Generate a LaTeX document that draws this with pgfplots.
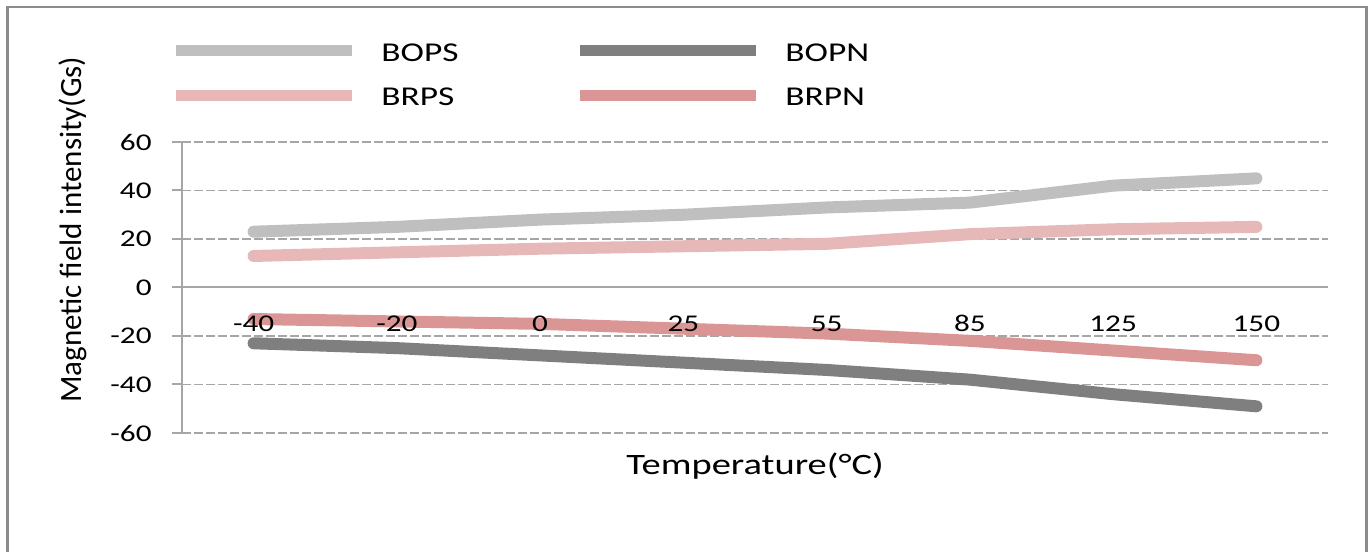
\documentclass[border=0pt]{standalone}
\usepackage{fontspec}
\setmainfont[FakeStretch=1.3]{Carlito}
\newfontfamily\ylabfont{Carlito}
\usepackage{pgfplots}
\pgfplotsset{compat=1.18}
\definecolor{cBOPS}{HTML}{BFBFBF}
\definecolor{cBOPN}{HTML}{7F7F7F}
\definecolor{cBRPS}{HTML}{E6B9B8}
\definecolor{cBRPN}{HTML}{D99694}
\definecolor{axgray}{HTML}{A6A6A6}
\definecolor{framegray}{HTML}{8C8C8C}
\pgfplotsset{/pgfplots/layers/mylayers/.define layer set={axis background,axis grid,axis ticks,axis lines,pre main,main,axis tick labels,axis descriptions,axis foreground}{/pgfplots/layers/standard}}
\begin{document}
\begin{tikzpicture}
\draw[framegray, line width=1.25pt] (3.8pt,-2pt) -- (3.8pt,270.5pt) -- (683.3pt,270.5pt) -- (683.3pt,-2pt);
\begin{axis}[
  set layers=mylayers,
  at={(91pt,57.5pt)}, anchor=south west,
  scale only axis, width=573pt, height=145.5pt,
  xmin=-0.5, xmax=7.5, ymin=-60, ymax=60,
  enlargelimits=false,
  axis x line*=middle, axis y line*=left,
  hide obscured x ticks=false, hide obscured y ticks=false,
  xtick={0,1,2,3,4,5,6,7},
  xticklabels={-40,-20,0,25,55,85,125,150},
  ytick={-60,-40,-20,0,20,40,60},
  yticklabels={-60,-40,-20,0,20,40,60},
  x tick style={draw=none},
  y tick style={axgray, line width=1pt},
  tick align=outside, major tick length=5pt,
  ymajorgrids,
  grid style={axgray, line width=0.75pt, dash pattern=on 4.5pt off 1.5pt},
  axis line style={axgray, line width=1pt},
  tick label style={font=\fontsize{12}{14}\selectfont, text=black},
  xticklabel style={anchor=base, yshift=-17pt},
  yticklabel style={anchor=east, inner sep=0pt, xshift=-10pt},
  xlabel={Temperature(°C)},
  ylabel={Magnetic field intensity(Gs)},
  every axis x label/.style={at={(axis description cs:0.5,-0.1443)}, anchor=base, font=\fontsize{14.8}{17}\selectfont},
  every axis y label/.style={at={(axis description cs:-0.0951,0.698)}, anchor=center, rotate=90, font=\ylabfont\fontsize{15.5}{17}\selectfont},
  legend columns=2,
  legend cell align=left,
  legend style={draw=none, fill=none, inner sep=0pt,
    at={(axis description cs:-0.01003,1.3402)}, anchor=north west,
    font=\fontsize{13.6}{16}\selectfont, row sep=12pt,
    nodes={inner sep=0pt},
    /tikz/every odd column/.append style={column sep=11.75pt},
    /tikz/every even column/.append style={column sep=58.2pt}},
  legend image code/.code={\draw[#1, line width=5.5pt, line cap=butt] (0pt,1.5pt) -- (88pt,1.5pt);},
]
\addplot[cBOPS, line width=6pt, line cap=round, line join=round] coordinates {(0,23) (1,25) (2,28) (3,30) (4,33) (5,35) (6,42) (7,45)};
\addlegendentry{BOPS}
\addplot[cBOPN, line width=6pt, line cap=round, line join=round] coordinates {(0,-23) (1,-25) (2,-28) (3,-31) (4,-34) (5,-38) (6,-44) (7,-49)};
\addlegendentry{BOPN}
\addplot[cBRPS, line width=6pt, line cap=round, line join=round] coordinates {(0,13) (1,14.5) (2,16) (3,17) (4,18) (5,22) (6,24) (7,25)};
\addlegendentry{BRPS}
\addplot[cBRPN, line width=6pt, line cap=round, line join=round] coordinates {(0,-13) (1,-14) (2,-15) (3,-17) (4,-19) (5,-22) (6,-26) (7,-30)};
\addlegendentry{BRPN}
\end{axis}
\useasboundingbox (0,0) rectangle (685pt,274pt);
\end{tikzpicture}
\end{document}
